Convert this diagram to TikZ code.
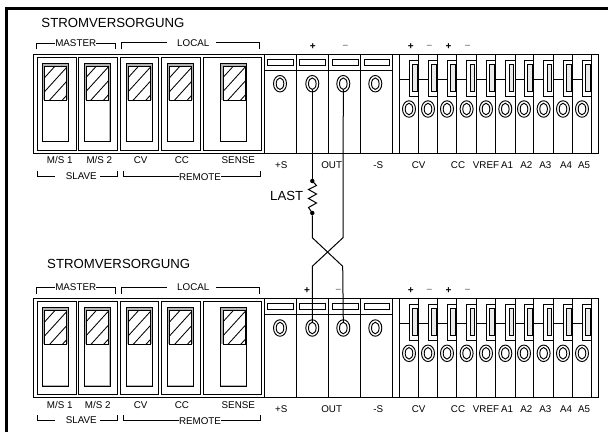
\documentclass[tikz,border=0pt]{standalone}
\usepackage{fontspec}
\setmainfont{Liberation Sans}
\usetikzlibrary{shapes.geometric}
\tikzset{
 ln/.style={line width=0.9pt,draw=black},
 wire/.style={line width=1pt,draw=black,line join=miter},
 small/.style={inner sep=0pt,font=\fontsize{9.8}{10}\selectfont,text height=7pt,text depth=0pt,text=black},
 big/.style={inner sep=0pt,font=\fontsize{13.2}{14}\selectfont,text height=9.5pt,text depth=0pt,text=black},
 plus/.style={inner sep=0pt,font=\fontsize{10}{10}\selectfont\bfseries,text=black},
 minus/.style={inner sep=0pt,font=\fontsize{10}{10}\selectfont\bfseries,text=black!45},
 ovout/.style={ellipse,draw=black,line width=0.95pt,fill=white,inner sep=0pt,minimum width=13pt,minimum height=16.5pt},
 ovin/.style={ellipse,draw=black,line width=0.95pt,fill=white,inner sep=0pt,minimum width=7.6pt,minimum height=11.5pt},
 jdot/.style={circle,fill=black,inner sep=0pt,minimum size=4.4pt},
}
% box x1, x2, inner x1, x2, hatch x1, x2
\newcommand{\swbox}[6]{%
 \draw[ln] (#1,57.5) rectangle (#2,150);
 \draw[ln,fill=black!30] (#3,63.5) rectangle (#4,141.7);
 \fill[white] (#3+0.6,100) rectangle (#4-0.6,141.1);
 \begin{scope}
  \clip (#5,66) rectangle (#6,100);
  \fill[white] (#5,66) rectangle (#6,100);
  \foreach \c in {11.5,25.5,39.5,53.5}
   \draw[line width=0.85pt,black] (#5,66+\c) -- ++(40,-44);
 \end{scope}
 \draw[line width=0.9pt,black] (#5,66) rectangle (#6,100);
}
\newcommand{\panelx}[1]{%
 % left block
 \draw[ln] (33.5,54) rectangle (264.7,153);
 \swbox{37.3}{76}{42.5}{68.7}{44.7}{66.7}
 \swbox{78.5}{117}{84}{110}{86}{108.7}
 \swbox{120.5}{158.7}{126.3}{152.3}{128.3}{150.7}
 \swbox{161.5}{200}{167.7}{193.7}{169.7}{191.7}
 \swbox{203.5}{261.5}{220.7}{246.7}{223}{245}
 % top brackets
 \node[small] (master) at (75.7,43) {MASTER};
 \node[small] (local) at (193.3,43) {LOCAL};
 \draw[ln] (36,49.3) |- (master.west);
 \draw[ln] (master.east) -| (115.7,49.3);
 \draw[ln] (121.7,49.3) |- (166.7,42.7);
 \draw[ln] (216,42.7) -| (259.3,49.3);
 % bottom labels
 \node[small] at (59.7,160.3) {M/S 1};
 \node[small] at (#1,160.3) {M/S 2};
 \node[small] at (140.7,160.3) {CV};
 \node[small] at (182,160.3) {CC};
 \node[small] at (238.3,160.3) {SENSE};
 \node[small] (slave) at (81.3,175.6) {SLAVE};
 \node[small] (remote) at (200,176.6) {REMOTE};
 \draw[ln] (37,170.7) |- (55,176);
 \draw[ln] (100,176) -| (117,170.7);
 \draw[ln] (123.3,170.7) |- (remote.west);
 \draw[ln] (remote.east) -| (260,170.7);
 % big terminals
 \draw[ln] (264.7,54.3) rectangle (598.3,153);
 \draw[ln] (264.7,70) -- (392.3,70);
 \foreach \x in {296.3,328.3,360.3,392.3,399,418.7,437.7,456.7,476.3,495.7,515,533.7,553.3,572.7,591.7}
  \draw[ln] (\x,54.3) -- (\x,153);
 \foreach \a/\b in {267.3/293,299.3/325.3,332/358,364/389.3}
  \draw[ln] (\a,59.3) rectangle (\b,65);
 \foreach \x/\n in {280/S,312.3/P,343.3/M,375.3/T} {
  \node[ovout] at (\x,83.7) {};
  \node[ovin] (o\n) at (\x,83.7) {};
 }
 % small terminals
 \foreach \a/\b in {399/418.7,418.7/437.7,437.7/456.7,456.7/476.3,476.3/495.7,495.7/515,515/533.7,533.7/553.3,553.3/572.7,572.7/591.7} {
  \draw[ln] (\a,79) -- (\b-9.4,79);
  \draw[ln] (\b-9.4,60) rectangle (\b,96);
  \draw[ln,fill=black!8] (\b-6,64) rectangle (\b-1.7,91);
  \node[ovout] at (\b-9.7,109) {};
  \node[ovin] at (\b-9.7,109) {};
 }
 % terminal labels
 \foreach \x/\t in {281.3/+S,331.7/OUT,378.3/-S,418.7/CV,458/CC,486/VREF,507/A1,526.3/A2,545.3/A3,566/A4,584/A5}
  \node[small] at (\x,165) {\t};
 % signs
 \node[plus] at (410.7,46.7) {+};
 \node[minus] at (429.3,46.7) {–};
 \node[plus] at (448.5,46.7) {+};
 \node[minus] at (467.7,46.7) {–};
}
\begin{document}
\begin{tikzpicture}[x=1pt,y=-1pt]
\useasboundingbox (0,0) rectangle (608,432);
\draw[line width=3.2pt,black] (6.5,432) -- (6.5,8.3) -- (608,8.3);
\node[big] (t1) at (113,22.7) {STROMVERSORGUNG};
\node[big] (t2) at (118.7,263.3) {STROMVERSORGUNG};
\begin{scope}[name prefix=a-]
 \panelx{99.3}
 \node[plus] at (312.7,46.7) {+};
 \node[minus] at (345.3,46.7) {–};
\end{scope}
\begin{scope}[yshift=-244.3pt,name prefix=b-]
 \panelx{97.7}
 \node[plus] at (307,46.4) {+};
 \node[minus] at (338.3,46.4) {–};
\end{scope}
% load and crossed wires
\node[jdot] (d1) at (312.3,181) {};
\node[jdot] (d2) at (312.3,213) {};
\node[big] (last) at (286.7,195.3) {LAST};
\coordinate (c1) at (312.3,237.7);
\coordinate (c2) at (343,237.7);
\coordinate (c3) at (342.7,266.3);
\coordinate (c4) at (312.3,266.3);
\draw[wire] (a-oP.south) -- (d1);
\draw[wire] (d1.center) -- ++(4.2,4.5) -- ++(-8,4) -- ++(8,4.5) -- ++(-8,4.5) -- ++(8,4.5) -- ++(-8,4.5) -- ++(3.8,5.5) -- (d2.center);
\draw[wire] (d2) -- (c1) -- (c3) -- (b-oM.north);
\draw[wire] (a-oM.south) -- (c2) -- (c4) -- (b-oP.north);
\end{tikzpicture}
\end{document}
